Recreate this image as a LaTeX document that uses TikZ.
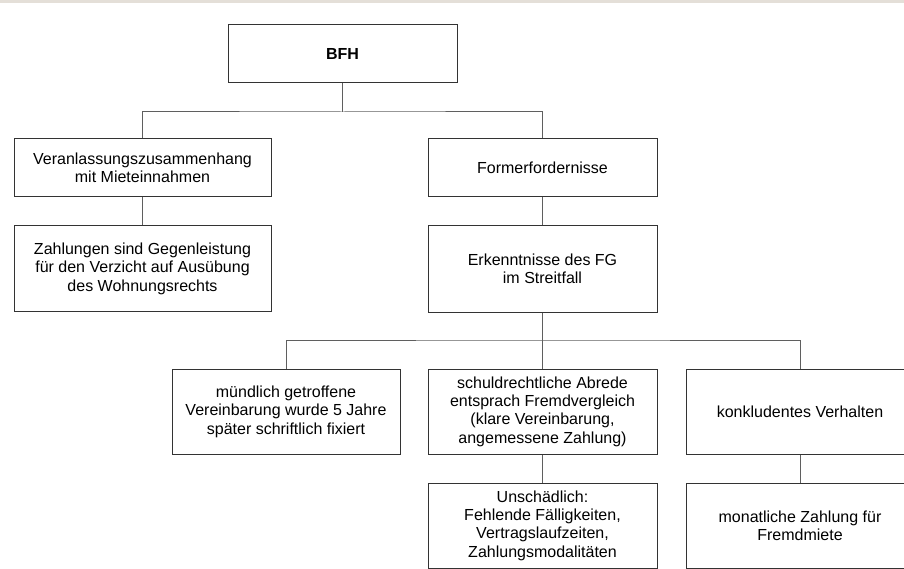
\documentclass[tikz,border=0pt]{standalone}
\usepackage{fontspec}
\setmainfont{Liberation Sans}
\usetikzlibrary{positioning}
\definecolor{bandgray}{RGB}{228,223,216}
\definecolor{linegray}{RGB}{95,95,95}
\tikzset{
  box/.style={draw=black!80, line width=1pt, fill=white, align=center,
    inner sep=0pt, font=\fontsize{16}{18.4}\selectfont},
  link/.style={draw=linegray, line width=1pt},
}

\begin{document}
\begin{tikzpicture}[x=1pt, y=-1pt]
    \useasboundingbox (0,0) rectangle (904,569);
    \clip (0,0) rectangle (904,569);
    \fill[bandgray] (0,0) rectangle (904,3);
    % top level
    \node[box, minimum width=229pt, minimum height=58pt] (bfh) at (342.5,54) {\textbf{BFH}};
    \coordinate (bus1) at (0,112);
    % left branch
    \node[box, minimum width=257pt, minimum height=58pt] (ver) at (142.5,168) {Veranlassungszusammenhang\\mit Mieteinnahmen};
    \node[box, minimum width=257pt, minimum height=85pt] (zah) at (142.5,268.5) {Zahlungen sind Gegenleistung\\f\"ur den Verzicht auf Aus\"ubung\\des Wohnungsrechts};
    % right branch
    \node[box, minimum width=229pt, minimum height=58pt] (frm) at (542.5,168) {Formerfordernisse};
    \node[box, minimum width=229pt, minimum height=86pt] (erk) at (542.5,269) {Erkenntnisse des FG\\im Streitfall};
    \coordinate (bus2) at (0,340);
    % findings
    \node[box, minimum width=228pt, minimum height=85pt] (mue) at (286,411.5) {m\"undlich getroffene\\Vereinbarung wurde 5 Jahre\\sp\"ater schriftlich fixiert};
    \node[box, minimum width=229pt, minimum height=85pt] (sch) at (542.5,411.5) {schuldrechtliche Abrede\\entsprach Fremdvergleich\\(klare Vereinbarung,\\angemessene Zahlung)};
    \node[box, minimum width=228pt, minimum height=85pt] (kon) at (800,411.5) {konkludentes Verhalten};
    \node[box, minimum width=229pt, minimum height=85pt] (uns) at (542.5,525.5) {Unsch\"adlich:\\Fehlende F\"alligkeiten,\\Vertragslaufzeiten,\\Zahlungsmodalit\"aten};
    \node[box, minimum width=228pt, minimum height=85pt] (mon) at (800,525.5) {monatliche Zahlung f\"ur\\Fremdmiete};
    % connectors
    \draw[link] (bfh.south) -- (bfh.south |- bus1);
    \draw[link] (ver.north) |- (bus1 -| bfh.south) -| (frm.north);
    \draw[link] (ver.south) -- (zah.north);
    \draw[link] (frm.south) -- (erk.north);
    \draw[link] (erk.south) -- (erk.south |- bus2);
    \draw[link] (mue.north) |- (bus2 -| erk.south) -| (kon.north);
    \draw[link] (erk.south |- bus2) -- (sch.north);
    \draw[link] (sch.south) -- (uns.north);
    \draw[link] (kon.south) -- (mon.north);
\end{tikzpicture}
\end{document}
